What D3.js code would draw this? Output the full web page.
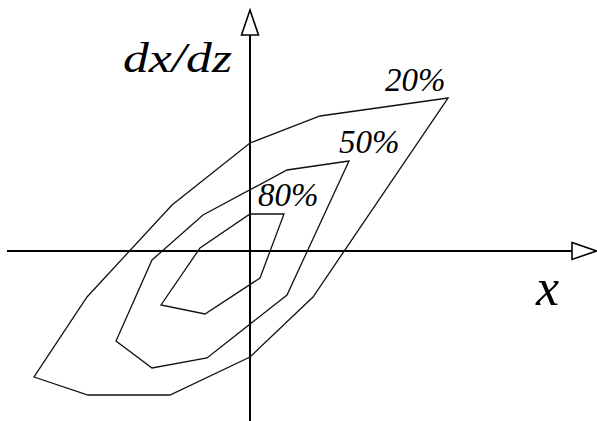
<!DOCTYPE html>
<html>
<head>
<meta charset="utf-8">
<script src="https://cdn.jsdelivr.net/npm/d3@7"></script>
<style>
  html, body { margin: 0; padding: 0; background: #fff; }
  svg { display: block; }
</style>
</head>
<body>
<svg id="chart" width="597" height="421"></svg>
<script>
// Probability contours of the slope dx/dz against x (closed polygons).
const contourLevels = ["20%", "50%", "80%"];

const contour20 = [
  [19.8, 15.3], [7.0, 13.5], [0, 10.8], [-7.8, 4.6], [-16.3, -4.6],
  [-21.6, -12.6], [-16.2, -14.4], [-8.0, -14.4], [0, -10.6], [6.3, -4.6]
];
const contour50 = [
  [9.9, 9.0], [3.7, 8.1], [-4.7, 3.6], [-9.8, -0.9], [-13.4, -9.0],
  [-9.8, -11.7], [-4.3, -10.7], [3.7, -4.4]
];
const contour80 = [
  [3.4, 3.7], [0, 3.7], [-5.0, 0.3], [-8.9, -5.4], [-4.5, -6.3], [1.0, -2.7]
];

// Anchor points of the level labels (data units)
const labelAnchors = [[13.5, 16.0], [8.9, 9.8], [0.8, 4.5]];

// Axis extents (data units)
const xExtent = [-24.3, 34.7];
const yExtent = [-17, 25];

const serif = "Liberation Serif";

const svg = d3.select("#chart");

const x = d3.scaleLinear().domain(xExtent).range([7, 597]);
const y = d3.scaleLinear().domain(yExtent).range([421, 1]);

const x0 = x(0), y0 = y(0);
const arrowLen = 25, arrowHalf = 8.5;

// Horizontal axis with an open arrow head
svg.append("line")
  .attr("x1", x(xExtent[0])).attr("x2", x(xExtent[1]) - arrowLen)
  .attr("y1", y0).attr("y2", y0)
  .attr("stroke", "#000").attr("stroke-width", 2);
svg.append("path")
  .attr("d", d3.line()([
    [x(xExtent[1]) - arrowLen, y0 - arrowHalf],
    [x(xExtent[1]) - 0.5, y0],
    [x(xExtent[1]) - arrowLen, y0 + arrowHalf]
  ]) + "Z")
  .attr("fill", "#fff").attr("stroke", "#000").attr("stroke-width", 1.6);

// Vertical axis with an open arrow head
const yTop = y(yExtent[1]) + 9;
svg.append("line")
  .attr("x1", x0).attr("x2", x0)
  .attr("y1", y(yExtent[0])).attr("y2", yTop + arrowLen)
  .attr("stroke", "#000").attr("stroke-width", 2);
svg.append("path")
  .attr("d", d3.line()([
    [x0 - arrowHalf, yTop + arrowLen],
    [x0, yTop],
    [x0 + arrowHalf, yTop + arrowLen]
  ]) + "Z")
  .attr("fill", "#fff").attr("stroke", "#000").attr("stroke-width", 1.6);

// Contour polygons
const line = d3.line().x(d => x(d[0])).y(d => y(d[1])).curve(d3.curveLinearClosed);
svg.append("g")
  .selectAll("path")
  .data([contour20, contour50, contour80])
  .join("path")
  .attr("d", line)
  .attr("fill", "none")
  .attr("stroke", "#111")
  .attr("stroke-width", 1.3)
  .attr("stroke-linejoin", "miter");

// Level labels
svg.append("g")
  .selectAll("text")
  .data(contourLevels)
  .join("text")
  .attr("x", (d, i) => x(labelAnchors[i][0]))
  .attr("y", (d, i) => y(labelAnchors[i][1]))
  .attr("font-family", serif)
  .attr("font-style", "italic")
  .attr("font-size", 33)
  .attr("fill", "#000")
  .text(d => d);

// Axis titles
svg.append("text")
  .attr("x", x(-12.7)).attr("y", y(17.9))
  .attr("font-family", serif)
  .attr("font-style", "italic")
  .attr("font-size", 43)
  .attr("textLength", 109)
  .attr("lengthAdjust", "spacingAndGlyphs")
  .attr("fill", "#000")
  .text("dx/dz");

svg.append("text")
  .attr("x", x(28.6)).attr("y", y(-5.4))
  .attr("font-family", serif)
  .attr("font-style", "italic")
  .attr("font-size", 52)
  .attr("fill", "#000")
  .text("x");
</script>
</body>
</html>
